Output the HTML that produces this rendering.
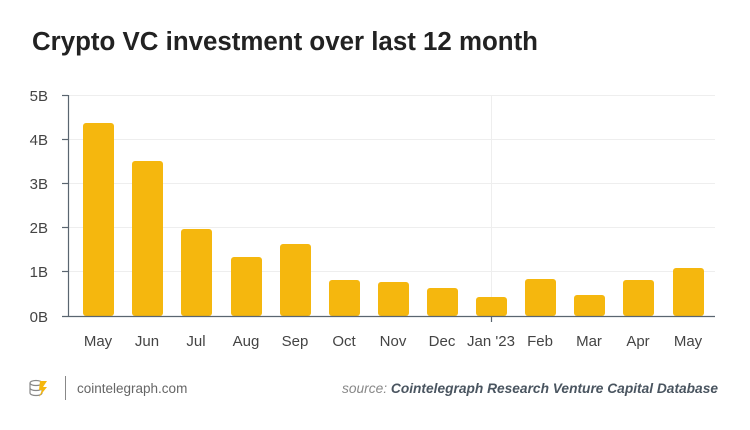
<!DOCTYPE html><html><head><style>body{margin:0;background:#fff}svg{display:block}</style></head><body>
<svg width="750" height="430" xmlns="http://www.w3.org/2000/svg" font-family="Liberation Sans, sans-serif">
<text x="32" y="50" font-size="25.5" font-weight="bold" fill="#222" textLength="506" lengthAdjust="spacingAndGlyphs">Crypto VC investment over last 12 month</text>
<g stroke="#eeeeee" stroke-width="1">
<line x1="68" x2="715" y1="95.5" y2="95.5"/><line x1="68" x2="715" y1="139.5" y2="139.5"/><line x1="68" x2="715" y1="183.5" y2="183.5"/><line x1="68" x2="715" y1="227.5" y2="227.5"/><line x1="68" x2="715" y1="271.5" y2="271.5"/>
<line x1="491.5" x2="491.5" y1="95" y2="316"/>
</g>
<g fill="#F5B70E">
<rect x="83" y="123" width="31" height="193" rx="3"/>
<rect x="132" y="161" width="31" height="155" rx="3"/>
<rect x="181" y="229" width="31" height="87" rx="3"/>
<rect x="231" y="257" width="31" height="59" rx="3"/>
<rect x="280" y="244" width="31" height="72" rx="3"/>
<rect x="329" y="280" width="31" height="36" rx="3"/>
<rect x="378" y="282" width="31" height="34" rx="3"/>
<rect x="427" y="288" width="31" height="28" rx="3"/>
<rect x="476" y="297" width="31" height="19" rx="3"/>
<rect x="525" y="279" width="31" height="37" rx="3"/>
<rect x="574" y="295" width="31" height="21" rx="3"/>
<rect x="623" y="280" width="31" height="36" rx="3"/>
<rect x="673" y="268" width="31" height="48" rx="3"/>
</g>
<g stroke="#5a6570" stroke-width="1.2">
<line x1="68.5" x2="68.5" y1="95" y2="316"/><line x1="62" x2="715" y1="316.5" y2="316.5"/>
<line x1="62" x2="68" y1="95.5" y2="95.5"/><line x1="62" x2="68" y1="139.5" y2="139.5"/><line x1="62" x2="68" y1="183.5" y2="183.5"/><line x1="62" x2="68" y1="227.5" y2="227.5"/><line x1="62" x2="68" y1="271.5" y2="271.5"/>
<line x1="491.5" x2="491.5" y1="316" y2="322"/>
</g>
<g font-size="15" fill="#444" text-anchor="end">
<text x="48" y="101">5B</text><text x="48" y="145">4B</text><text x="48" y="189">3B</text><text x="48" y="233">2B</text><text x="48" y="277">1B</text><text x="48" y="322">0B</text>
</g>
<g font-size="15" fill="#444" text-anchor="middle">
<text x="98" y="346">May</text><text x="147" y="346">Jun</text><text x="196" y="346">Jul</text><text x="246" y="346">Aug</text><text x="295" y="346">Sep</text><text x="344" y="346">Oct</text><text x="393" y="346">Nov</text><text x="442" y="346">Dec</text><text x="491" y="346">Jan '23</text><text x="540" y="346">Feb</text><text x="589" y="346">Mar</text><text x="638" y="346">Apr</text><text x="688" y="346">May</text>
</g>
<g fill="none" stroke="#888" stroke-width="1.2"><ellipse cx="36" cy="383" rx="6" ry="2.5"/><path d="M30 383v10M42 383v10M30 388a6 2.5 0 0 0 12 0M30 393a6 2.5 0 0 0 12 0"/></g>
<path d="M40 381l7 0-4 6 4 0-8 10 3-7-3 0z" fill="#F5B70E"/>
<line x1="65.5" x2="65.5" y1="376" y2="400" stroke="#888"/>
<text x="77" y="393" font-size="13.5" fill="#666">cointelegraph.com</text>
<text x="342" y="393" font-size="14" font-style="italic" fill="#888" textLength="376" lengthAdjust="spacingAndGlyphs">source: <tspan font-weight="bold" fill="#4a5560">Cointelegraph Research Venture Capital Database</tspan></text>
</svg></body></html>
